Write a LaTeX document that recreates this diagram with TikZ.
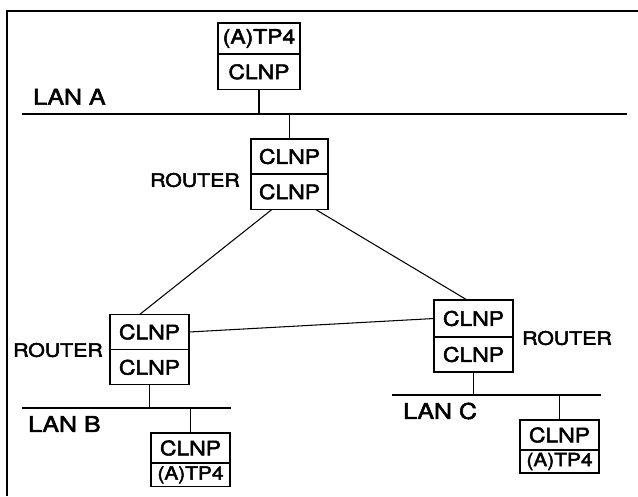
\documentclass[tikz,border=0pt]{standalone}
\usepackage{fontspec}
\setmainfont{TeX Gyre Heros}[FakeStretch=1.15, FakeBold=2.5]
\usetikzlibrary{positioning}

\begin{document}
\begin{tikzpicture}[
  every node/.style={font=\fontsize{17}{18}\selectfont},
  layer/.style={rectangle, draw, line width=1.1pt, minimum width=2.37cm, minimum height=1.07cm, inner sep=0pt, outer sep=0pt},
  hostlayer/.style={layer, minimum height=0.9cm},
  smalllayer/.style={layer, minimum height=0.71cm, font=\fontsize{15.5}{16}\selectfont},
  lanlabel/.style={anchor=west, inner sep=0pt, font=\fontsize{18.5}{20}\selectfont},
  rlabel/.style={inner sep=0pt, font=\fontsize{15.8}{18}\selectfont},
  lan/.style={line width=1.1pt},
  link/.style={line width=0.9pt},
]
\useasboundingbox (0,0) rectangle (19.14,-14.88);
% frame
\draw[lan] (0.21,-14.88) |- (19.14,-0.33);

% LAN A with end system and router
\coordinate (lanAw) at (0.66,-3.42);
\coordinate (lanAe) at (18.81,-3.42);
\draw[lan] (lanAw) -- (lanAe);
\node[lanlabel] (lanAlbl) at (0.99,-2.9) {LAN A};

\node[layer, minimum width=2.46cm, minimum height=0.93cm] (atp) at (7.77,-1.155) {(A)TP4};
\node[layer, minimum width=2.46cm, below=0pt of atp] (aclnp) {CLNP};

\node[layer, minimum width=2.31cm, minimum height=1.05cm] (rAt) at (8.685,-4.695) {CLNP};
\node[layer, minimum width=2.31cm, below=0pt of rAt] (rAb) {CLNP};
\node[rlabel, anchor=east] (rAlbl) at (7.2,-5.4) {ROUTER};

% router B side
\node[layer] (rBt) at (4.485,-9.96) {CLNP};
\node[layer, minimum height=1.05cm, below=0pt of rBt] (rBb) {CLNP};
\node[rlabel, anchor=east] (rBlbl) at (3.09,-10.5) {ROUTER};

% router C side
\node[layer, minimum height=1.11cm] (rCt) at (14.205,-9.555) {CLNP};
\node[layer, minimum height=1.05cm, below=0pt of rCt] (rCb) {CLNP};
\node[rlabel, anchor=west] (rClbl) at (15.66,-10.14) {ROUTER};

% LAN B
\coordinate (lanBw) at (0.66,-12.24);
\coordinate (lanBe) at (6.93,-12.24);
\draw[lan] (lanBw) -- (lanBe);
\node[lanlabel] (lanBlbl) at (0.84,-12.72) {LAN B};
\node[hostlayer] (bclnp) at (5.715,-13.44) {CLNP};
\node[smalllayer, below=0pt of bclnp] (batp) {(A)TP4};

% LAN C
\coordinate (lanCw) at (11.76,-11.85);
\coordinate (lanCe) at (18.03,-11.85);
\draw[lan] (lanCw) -- (lanCe);
\node[lanlabel] (lanClbl) at (12.09,-12.33) {LAN C};
\node[hostlayer] (cclnp) at (16.785,-13.05) {CLNP};
\node[smalllayer, minimum height=0.69cm, below=0pt of cclnp] (catp) {(A)TP4};

% attachments
\draw[link] (aclnp.south) -- (aclnp.south |- lanAw);
\draw[link] (rAt.north |- lanAw) -- (rAt.north);
\draw[link] (rBb.south) -- (rBb.south |- lanBw);
\draw[link] (bclnp.north |- lanBw) -- (bclnp.north);
\draw[link] (rCb.south) -- (rCb.south |- lanCw);
\draw[link] (cclnp.north |- lanCw) -- (cclnp.north);

% router links
\draw[link] (rAb.225) -- (rBt.118);
\draw[link] (rAb.326) -- (rCt.109);
\draw[link] (rBt.east) -- (rCt.west);
\end{tikzpicture}
\end{document}
